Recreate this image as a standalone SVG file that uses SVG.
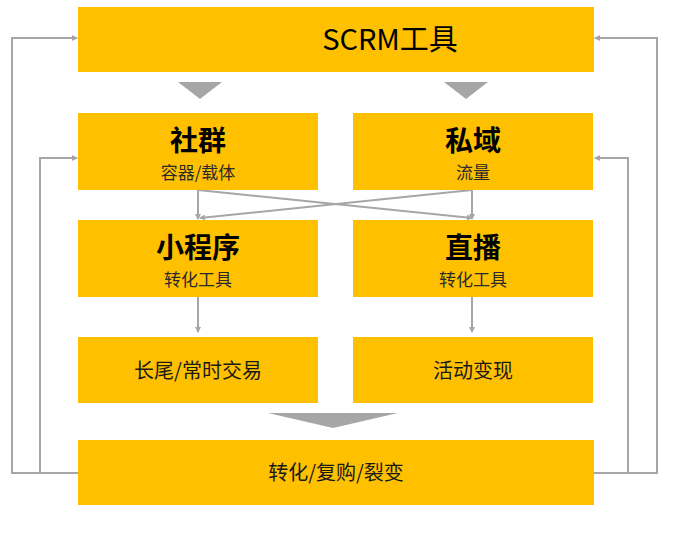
<svg xmlns="http://www.w3.org/2000/svg" width="674" height="538" viewBox="0 0 674 538">
<style>
.box{fill:#FFC000}
.t{font-family:"Noto Sans CJK SC","Noto Sans",sans-serif;text-anchor:middle;fill:#000}
.big{font-size:28px;font-weight:bold}
.sub{font-size:17px;fill:#2a2a2a}
.mid{font-size:20px;fill:#1a1a1a}
.ln{fill:none;stroke:#A6A6A6;stroke-width:2}
.tri{fill:#A6A6A6}
</style>
<defs>
<marker id="ah" markerWidth="6" markerHeight="6" refX="5" refY="3" orient="auto" markerUnits="userSpaceOnUse">
<path d="M0,0 L6,3 L0,6 z" fill="#A6A6A6"/>
</marker>
</defs>
<rect width="674" height="538" fill="#fff"/>
<g id="connectors">
<polyline class="ln" points="78,473 12,473 12,38 77,38" marker-end="url(#ah)"/>
<polyline class="ln" points="40,473 40,158 77,158" marker-end="url(#ah)"/>
<polyline class="ln" points="594,473 657,473 657,38 595,38" marker-end="url(#ah)"/>
<polyline class="ln" points="628,473 628,158 595,158" marker-end="url(#ah)"/>
<line class="ln" x1="198" y1="190" x2="198" y2="219" marker-end="url(#ah)"/>
<line class="ln" x1="472" y1="190" x2="472" y2="219" marker-end="url(#ah)"/>
<line class="ln" x1="198" y1="190" x2="472" y2="218" marker-end="url(#ah)"/>
<line class="ln" x1="472" y1="190" x2="200" y2="218" marker-end="url(#ah)"/>
<line class="ln" x1="198" y1="297" x2="198" y2="332" marker-end="url(#ah)"/>
<line class="ln" x1="472" y1="297" x2="472" y2="332" marker-end="url(#ah)"/>
<polygon class="tri" points="178,82 222,82 200,99"/>
<polygon class="tri" points="444,82 488,82 466,99"/>
<polygon class="tri" points="268,413 398,413 333,428"/>
</g>
<g id="scrm"><rect class="box" x="78" y="7" width="516" height="65"/><text class="t" x="390" y="50" font-size="29">SCRM工具</text></g>
<g id="shequn"><rect class="box" x="78" y="113" width="240" height="77"/><text class="t big" x="198" y="151">社群</text><text class="t sub" x="198" y="179">容器/载体</text></g>
<g id="siyu"><rect class="box" x="353" y="113" width="240" height="77"/><text class="t big" x="473" y="151">私域</text><text class="t sub" x="473" y="179">流量</text></g>
<g id="xiaochengxu"><rect class="box" x="78" y="220" width="240" height="77"/><text class="t big" x="198" y="258">小程序</text><text class="t sub" x="198" y="286">转化工具</text></g>
<g id="zhibo"><rect class="box" x="353" y="220" width="240" height="77"/><text class="t big" x="473" y="258">直播</text><text class="t sub" x="473" y="286">转化工具</text></g>
<g id="changwei"><rect class="box" x="78" y="337" width="240" height="66"/><text class="t mid" x="198" y="378">长尾/常时交易</text></g>
<g id="huodong"><rect class="box" x="353" y="337" width="240" height="66"/><text class="t mid" x="473" y="378">活动变现</text></g>
<g id="zhuanhua"><rect class="box" x="78" y="440" width="516" height="65"/><text class="t mid" x="336" y="480">转化/复购/裂变</text></g>
</svg>
